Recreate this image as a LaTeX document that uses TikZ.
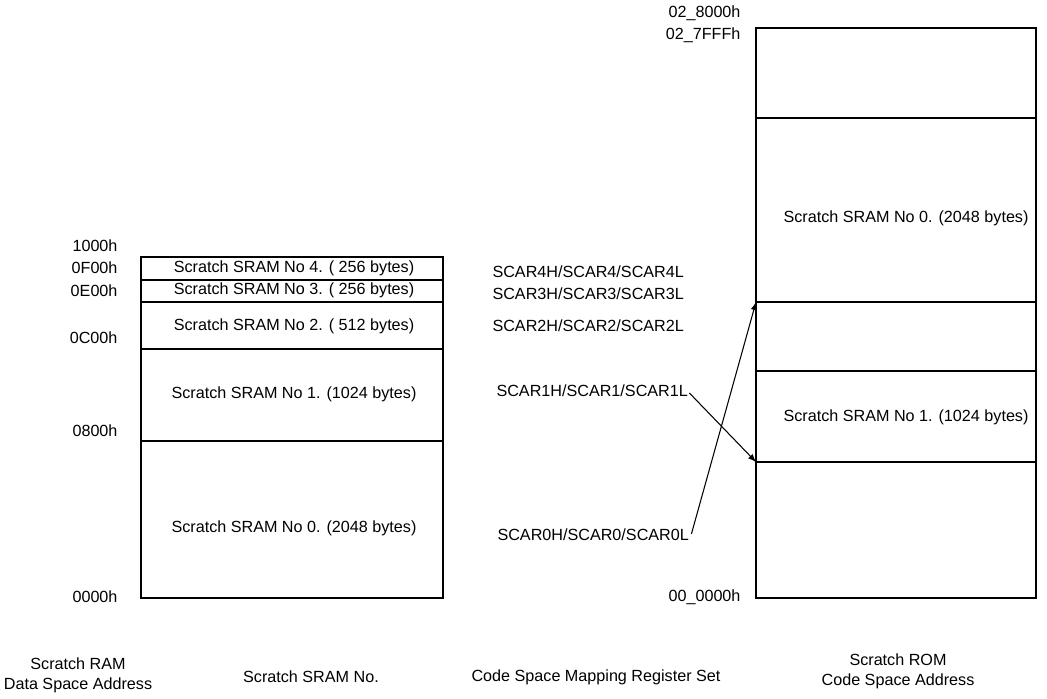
\documentclass[tikz,border=0pt]{standalone}
\usepackage{fontspec}
\setmainfont{Liberation Sans}

\begin{document}
\begin{tikzpicture}[x=0.02cm,y=-0.02cm,line width=0.6pt,
  font=\fontsize{9.2}{11.4}\selectfont,
  addr/.style={anchor=east,inner sep=0pt},
  reg/.style={anchor=west,inner sep=0pt},
  caption/.style={align=center,inner sep=0pt}]
\useasboundingbox (0,0) rectangle (1047,698);

% data space (scratch RAM)
\draw (141,257) rectangle (443,598);
\foreach \y in {280,302,349,441} \draw (141,\y) -- (443,\y);
\node (l4) at (294,268) {Scratch SRAM No 4. ( 256 bytes)};
\node (l3) at (294,290) {Scratch SRAM No 3. ( 256 bytes)};
\node (l2) at (294,326) {Scratch SRAM No 2. ( 512 bytes)};
\node (l1) at (294,394) {Scratch SRAM No 1. (1024 bytes)};
\node (l0) at (294,528) {Scratch SRAM No 0. (2048 bytes)};

\node[addr] (a1000) at (118,246) {1000h};
\node[addr] (a0F00) at (118,268) {0F00h};
\node[addr] (a0E00) at (118,291) {0E00h};
\node[addr] (a0C00) at (118,338) {0C00h};
\node[addr] (a0800) at (118,431) {0800h};
\node[addr] (a0000) at (118,597) {0000h};

% code space (scratch ROM)
\draw (756,28) rectangle (1036,598);
\foreach \y in {118,302,371,462} \draw (756,\y) -- (1036,\y);
\coordinate (r0top) at (756,302);
\coordinate (r1bot) at (756,462);
\node (r0) at (906,218) {Scratch SRAM No 0. (2048 bytes)};
\node (r1) at (906,417) {Scratch SRAM No 1. (1024 bytes)};

\node[addr] (c8000) at (741,13) {02\_8000h};
\node[addr] (c7FFF) at (741,35) {02\_7FFFh};
\node[addr] (c0000) at (741,597) {00\_0000h};

% mapping registers
\node[reg] (scar4) at (492,272) {SCAR4H/SCAR4/SCAR4L};
\node[reg] (scar3) at (492,294) {SCAR3H/SCAR3/SCAR3L};
\node[reg] (scar2) at (492,326) {SCAR2H/SCAR2/SCAR2L};
\node[reg] (scar1) at (496,391) {SCAR1H/SCAR1/SCAR1L};
\node[reg] (scar0) at (497,535) {SCAR0H/SCAR0/SCAR0L};

\draw[-latex] ([shift={(1,2)}]scar1.east) -- (r1bot);
\draw[-latex] ([shift={(2,-1)}]scar0.east) -- (r0top);

% captions
\node[caption] (capram) at (78,675) {Scratch RAM\\Data Space Address};
\node[caption] (capsram) at (311,677) {Scratch SRAM No.};
\node[caption] (capreg) at (596,677) {Code Space Mapping Register Set};
\node[caption] (caprom) at (898,671) {Scratch ROM\\Code Space Address};
\end{tikzpicture}
\end{document}
